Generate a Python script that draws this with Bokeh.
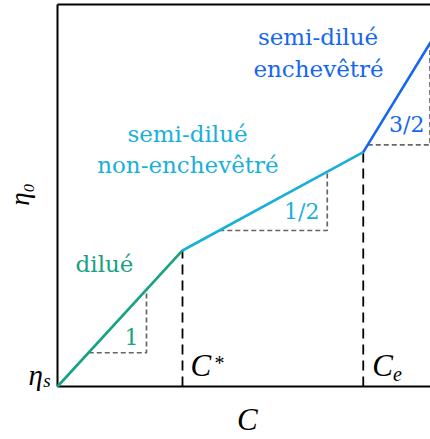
from math import pi
from bokeh.plotting import figure
from bokeh.models import Range1d, Label
from bokeh.embed import file_html
from bokeh.resources import INLINE

# schematic log-log data (log C, log eta)
log_c = [0.0, 1.0, 2.446, 3.2]      # eta_s, C*, Ce, beyond
log_eta = [0.0, 1.0, 1.723, 2.854]

regimes = ["dilué", "semi-dilué non-enchevêtré", "semi-dilué enchevêtré"]
slopes = ["1", "1/2", "3/2"]
colors = ["#17a382", "#19b0d8", "#1467ee"]

# slope triangles (horizontal + vertical legs)
tri_x = [[0.25, 0.712, 0.712], [1.294, 2.158, 2.158], [2.482, 2.98, 2.98]]
tri_y = [[0.248, 0.248, 0.712], [1.147, 1.147, 1.579], [1.777, 1.777, 2.524]]

# visible window of the schematic (frame covers the whole canvas)
X0, X1 = -0.456, 2.984
Y0, Y1 = -0.3897, 2.838
YTOP = 2.809   # top border of the plot box
PX_PER_Y = 136.0

p = figure(width=430, height=439, output_backend="svg", toolbar_location=None,
           x_range=Range1d(X0, X1), y_range=Range1d(Y0, Y1),
           min_border=0, x_axis_location=None, y_axis_location=None)
p.outline_line_color = None
p.xgrid.visible = False
p.ygrid.visible = False
p.background_fill_color = "white"

# plot box: left, bottom, top
p.line([0, 0], [0, YTOP], line_color="black", line_width=2)
p.line([0, X1 + 0.1], [0, 0], line_color="black", line_width=2)
p.line([0, X1 + 0.1], [YTOP, YTOP], line_color="black", line_width=2)

# gray slope triangles
for tx, ty in zip(tri_x, tri_y):
    p.line(tx, ty, line_color="#666666", line_width=1.7, line_dash="5 3")

# vertical dashed markers at C* and Ce
p.segment(x0=log_c[1:3], y0=[0, 0], x1=log_c[1:3], y1=log_eta[1:3],
          line_color="black", line_width=1.8, line_dash="10 6")

# regime lines
for i in range(3):
    p.line(log_c[i:i + 2], log_eta[i:i + 2], line_color=colors[i], line_width=2.6)

serif = "DejaVu Serif"
mathf = "Liberation Serif"


def lab(x, y, text, size, color="black", font=serif, style="normal",
        align="center", baseline="alphabetic", angle=0):
    # compensate for the renderer placing text lower than the alphabetic baseline
    if baseline == "alphabetic":
        y = y + 0.37 * size / PX_PER_Y
    p.add_layout(Label(x=x, y=y, text=text, text_font=font, text_font_size=f"{size}px",
                       text_font_style=style, text_color=color, text_align=align,
                       text_baseline=baseline, angle=angle))


# regime names
lab(0.376, 0.840, "dilué", 23, colors[0])
lab(1.040, 1.796, "semi-dilué", 23, colors[1])
lab(1.043, 1.564, "non-enchevêtré", 23, colors[1])
lab(2.084, 2.507, "semi-dilué", 23, colors[2])
lab(2.088, 2.270, "enchevêtré", 23, colors[2])

# slope labels
lab(0.648, 0.301, slopes[0], 22, colors[0], align="right")
lab(2.096, 1.224, slopes[1], 22, colors[1], align="right")
lab(2.936, 1.870, slopes[2], 22, colors[2], align="right")

# math labels
lab(1.064, 0.068, "C", 31, font=mathf, style="italic", align="left")
lab(1.256, 0.118, "*", 20, font=mathf, align="left")
lab(2.518, 0.068, "C", 31, font=mathf, style="italic", align="left")
lab(2.684, 0.040, "e", 20, font=mathf, style="italic", align="left")
lab(-0.232, 0.007, "η", 29, font=mathf, style="italic", align="left")
lab(-0.115, -0.008, "s", 19, font=mathf, style="italic", align="left")
lab(1.518, -0.329, "C", 31, font=mathf, style="italic")
lab(-0.304, 1.412, "η₀", 27, font=mathf, style="italic", baseline="middle", angle=pi / 2)

open("out.html", "w").write(file_html(p, INLINE))
